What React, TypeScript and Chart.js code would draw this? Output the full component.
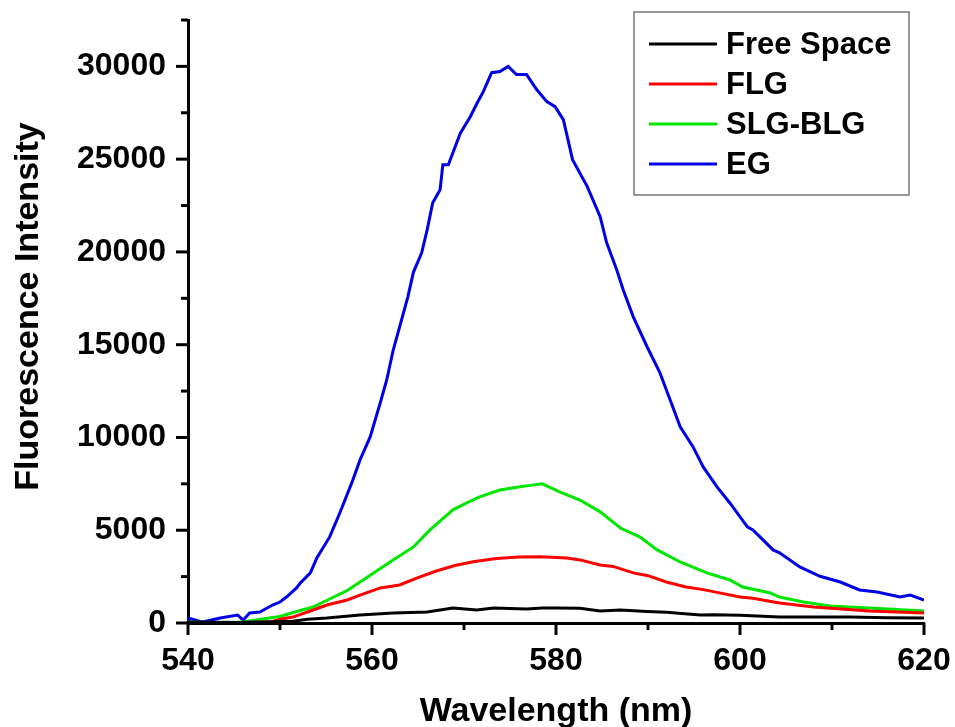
import React, { useEffect, useRef } from 'react';
import { Chart, registerables } from 'chart.js';

Chart.register(...registerables);

// ---- Data (wavelength in nm, fluorescence intensity) ----
const freeSpaceWl = [540, 545, 548, 551.4, 553, 555.1, 558.7, 562.3, 566, 568.8, 571.4, 573.2, 576.8, 578.5, 580.1, 582.6, 584.8, 587, 589.9, 592, 595.7, 597.1, 600, 604.3, 608.7, 612, 616, 620];
const freeSpaceVal = [50, 30, 50, 100, 200, 270, 430, 540, 590, 810, 700, 810, 760, 810, 810, 800, 650, 700, 620, 580, 430, 450, 420, 320, 320, 330, 280, 270];

const flgWl = [540, 545, 548.9, 550, 551.4, 553.6, 555.1, 557.3, 558.7, 560.9, 563, 565, 567, 569, 571, 573.5, 576, 578.3, 581.2, 582.6, 584.8, 586.2, 588.4, 590, 592, 594, 596, 597.5, 600, 601.4, 604.3, 608, 614.1, 620];
const flgVal = [0, 20, 50, 200, 320, 700, 970, 1240, 1500, 1890, 2050, 2450, 2800, 3100, 3300, 3480, 3560, 3570, 3500, 3400, 3130, 3050, 2700, 2550, 2210, 1950, 1800, 1650, 1400, 1330, 1080, 860, 650, 540];

const slgWl = [540, 543, 546, 549, 550, 552, 553.6, 555, 557.3, 559, 560.5, 562.3, 564.5, 566.3, 568.8, 570.3, 571.7, 573.9, 576.1, 576.8, 578.5, 580.4, 582.6, 584.8, 587, 589.1, 591, 593.5, 596.4, 598.9, 600.3, 603.3, 604.3, 606.9, 609.8, 614.1, 620];
const slgVal = [50, 30, 60, 280, 350, 650, 860, 1200, 1750, 2300, 2800, 3400, 4100, 5020, 6100, 6470, 6800, 7170, 7340, 7390, 7500, 7070, 6630, 5990, 5120, 4640, 3940, 3290, 2700, 2320, 1940, 1620, 1400, 1130, 920, 810, 650];

const egWl = [540, 541.6, 543.5, 545.4, 546, 546.7, 547.8, 549.2, 550, 550.7, 551.8, 552.2, 553.3, 554, 555.4, 556.5, 557.8, 558.7, 559.8, 560.9, 561.6, 562.3, 563.9, 564.5, 565.4, 566, 566.6, 567.4, 567.7, 568.3, 569.6, 570.7, 571.4, 572.1, 573, 573.9, 574.8, 575.7, 576.8, 577.9, 579, 579.9, 580.8, 581.8, 583.4, 584.8, 585.5, 586.6, 587.3, 588.4, 589.9, 591.3, 592.4, 593.5, 594.9, 596, 597.5, 598.9, 600.8, 601.4, 602.5, 603.6, 604.3, 606.2, 606.5, 608.7, 610.9, 613, 614.9, 617.4, 618.5, 620];
const egVal = [270, 50, 270, 430, 160, 540, 590, 970, 1130, 1400, 1890, 2150, 2700, 3500, 4640, 5930, 7550, 8790, 10030, 11870, 13100, 14700, 17580, 18900, 19950, 21200, 22650, 23350, 24700, 24700, 26400, 27300, 28000, 28640, 29660, 29720, 30000, 29560, 29560, 28750, 28100, 27830, 27130, 24970, 23520, 21900, 20500, 19040, 17960, 16500, 14890, 13480, 12030, 10570, 9490, 8410, 7340, 6470, 5180, 5020, 4480, 3940, 3780, 3130, 3020, 2520, 2210, 1780, 1670, 1400, 1510, 1240];

const seriesLabels = ['Free Space', 'FLG', 'SLG-BLG', 'EG'];
const seriesColors = ['#000000', '#ff0000', '#00e600', '#0000e6'];

const xTickLabels = [540, 560, 580, 600, 620];
const yTickLabels = [0, 5000, 10000, 15000, 20000, 25000, 30000];

const xTitle = 'Wavelength (nm)';
const yTitle = 'Fluorescence Intensity';

const FONT = '"Liberation Sans", Arial, sans-serif';

function toPoints(wl: number[], val: number[]) {
  return wl.map((x, i) => ({ x, y: val[i] }));
}

const axisDecorPlugin = {
  id: 'axisDecor',
  afterDraw(chart: any) {
    const { ctx, chartArea } = chart;
    const xs = chart.scales.x;
    const ys = chart.scales.y;
    ctx.save();
    ctx.strokeStyle = '#000';
    ctx.lineWidth = 3;
    ctx.lineCap = 'butt';
    xs.ticks.forEach((t: any) => {
      const px = xs.getPixelForValue(t.value);
      const major = xTickLabels.includes(t.value);
      ctx.beginPath();
      ctx.moveTo(px, chartArea.bottom);
      ctx.lineTo(px, chartArea.bottom + (major ? 12 : 7));
      ctx.stroke();
    });
    ys.ticks.forEach((t: any) => {
      const py = ys.getPixelForValue(t.value);
      const major = yTickLabels.includes(t.value);
      ctx.beginPath();
      ctx.moveTo(chartArea.left, py);
      ctx.lineTo(chartArea.left - (major ? 12 : 7), py);
      ctx.stroke();
    });
    ctx.fillStyle = '#000';
    ctx.font = `bold 34px ${FONT}`;
    ctx.textAlign = 'center';
    ctx.textBaseline = 'alphabetic';
    // x-axis title
    ctx.fillText(xTitle, (chartArea.left + chartArea.right) / 2, 721);
    // y-axis title
    ctx.translate(38, (chartArea.top + chartArea.bottom) / 2 - 15);
    ctx.rotate(-Math.PI / 2);
    ctx.fillText(yTitle, 0, 0);
    ctx.restore();
  },
};

const legendPlugin = {
  id: 'boxLegend',
  afterDraw(chart: any) {
    const { ctx, chartArea } = chart;
    const boxRight = chartArea.right - 15;
    const boxLeft = boxRight - 275;
    const boxTop = chartArea.top - 8;
    const boxH = 183;
    ctx.save();
    ctx.fillStyle = '#ffffff';
    ctx.fillRect(boxLeft, boxTop, boxRight - boxLeft, boxH);
    ctx.strokeStyle = '#777777';
    ctx.lineWidth = 1.5;
    ctx.strokeRect(boxLeft, boxTop, boxRight - boxLeft, boxH);
    chart.data.datasets.forEach((ds: any, i: number) => {
      const y = boxTop + 32 + i * 40;
      ctx.strokeStyle = ds.borderColor;
      ctx.lineWidth = 3;
      ctx.beginPath();
      ctx.moveTo(boxLeft + 15, y);
      ctx.lineTo(boxLeft + 83, y);
      ctx.stroke();
      ctx.fillStyle = '#000';
      ctx.font = `bold 31px ${FONT}`;
      ctx.textBaseline = 'middle';
      ctx.textAlign = 'left';
      ctx.fillText(ds.label, boxLeft + 92, y + 1);
    });
    ctx.restore();
  },
};

export default function App() {
  const canvasRef = useRef<HTMLCanvasElement | null>(null);

  useEffect(() => {
    const canvas = canvasRef.current;
    if (!canvas) return;
    const seriesWl = [freeSpaceWl, flgWl, slgWl, egWl];
    const seriesVal = [freeSpaceVal, flgVal, slgVal, egVal];
    const chart = new Chart(canvas, {
      type: 'line',
      data: {
        datasets: seriesLabels.map((label, i) => ({
          label,
          data: toPoints(seriesWl[i], seriesVal[i]),
          borderColor: seriesColors[i],
          backgroundColor: seriesColors[i],
          borderWidth: 3,
          pointRadius: 0,
          tension: 0,
          fill: false,
        })),
      },
      options: {
        animation: false,
        responsive: false,
        layout: { padding: { top: 20, right: 31, left: 0, bottom: 0 } },
        plugins: {
          legend: { display: false },
          tooltip: { enabled: false },
        },
        scales: {
          x: {
            type: 'linear',
            min: 540,
            max: 620,
            afterFit: (s: any) => { s.height = 104; s.paddingLeft = 0; s.paddingRight = 0; },
            border: { display: true, color: '#000', width: 3 },
            grid: { display: false, drawTicks: false },
            ticks: {
              stepSize: 10,
              autoSkip: false,
              maxRotation: 0,
              padding: 19,
              color: '#000',
              font: { family: FONT, size: 32, weight: 'bold' },
              callback: (v: any) => (xTickLabels.includes(Number(v)) ? String(v) : ''),
            },
            title: { display: false },
          },
          y: {
            type: 'linear',
            min: 0,
            max: 32500,
            afterFit: (s: any) => { s.width = 188; s.paddingTop = 0; s.paddingBottom = 0; },
            border: { display: true, color: '#000', width: 3 },
            grid: { display: false, drawTicks: false },
            ticks: {
              stepSize: 2500,
              autoSkip: false,
              padding: 22,
              color: '#000',
              font: { family: FONT, size: 32, weight: 'bold' },
              callback: (v: any) => (yTickLabels.includes(Number(v)) ? String(v) : ''),
            },
            title: { display: false },
          },
        },
      },
      plugins: [axisDecorPlugin, legendPlugin],
    } as any);
    return () => chart.destroy();
  }, []);

  return (
    <div style={{ position: 'absolute', left: 0, top: 0, width: 955, height: 727, background: '#fff' }}>
      <canvas ref={canvasRef} width={955} height={727} style={{ display: 'block' }} />
    </div>
  );
}
